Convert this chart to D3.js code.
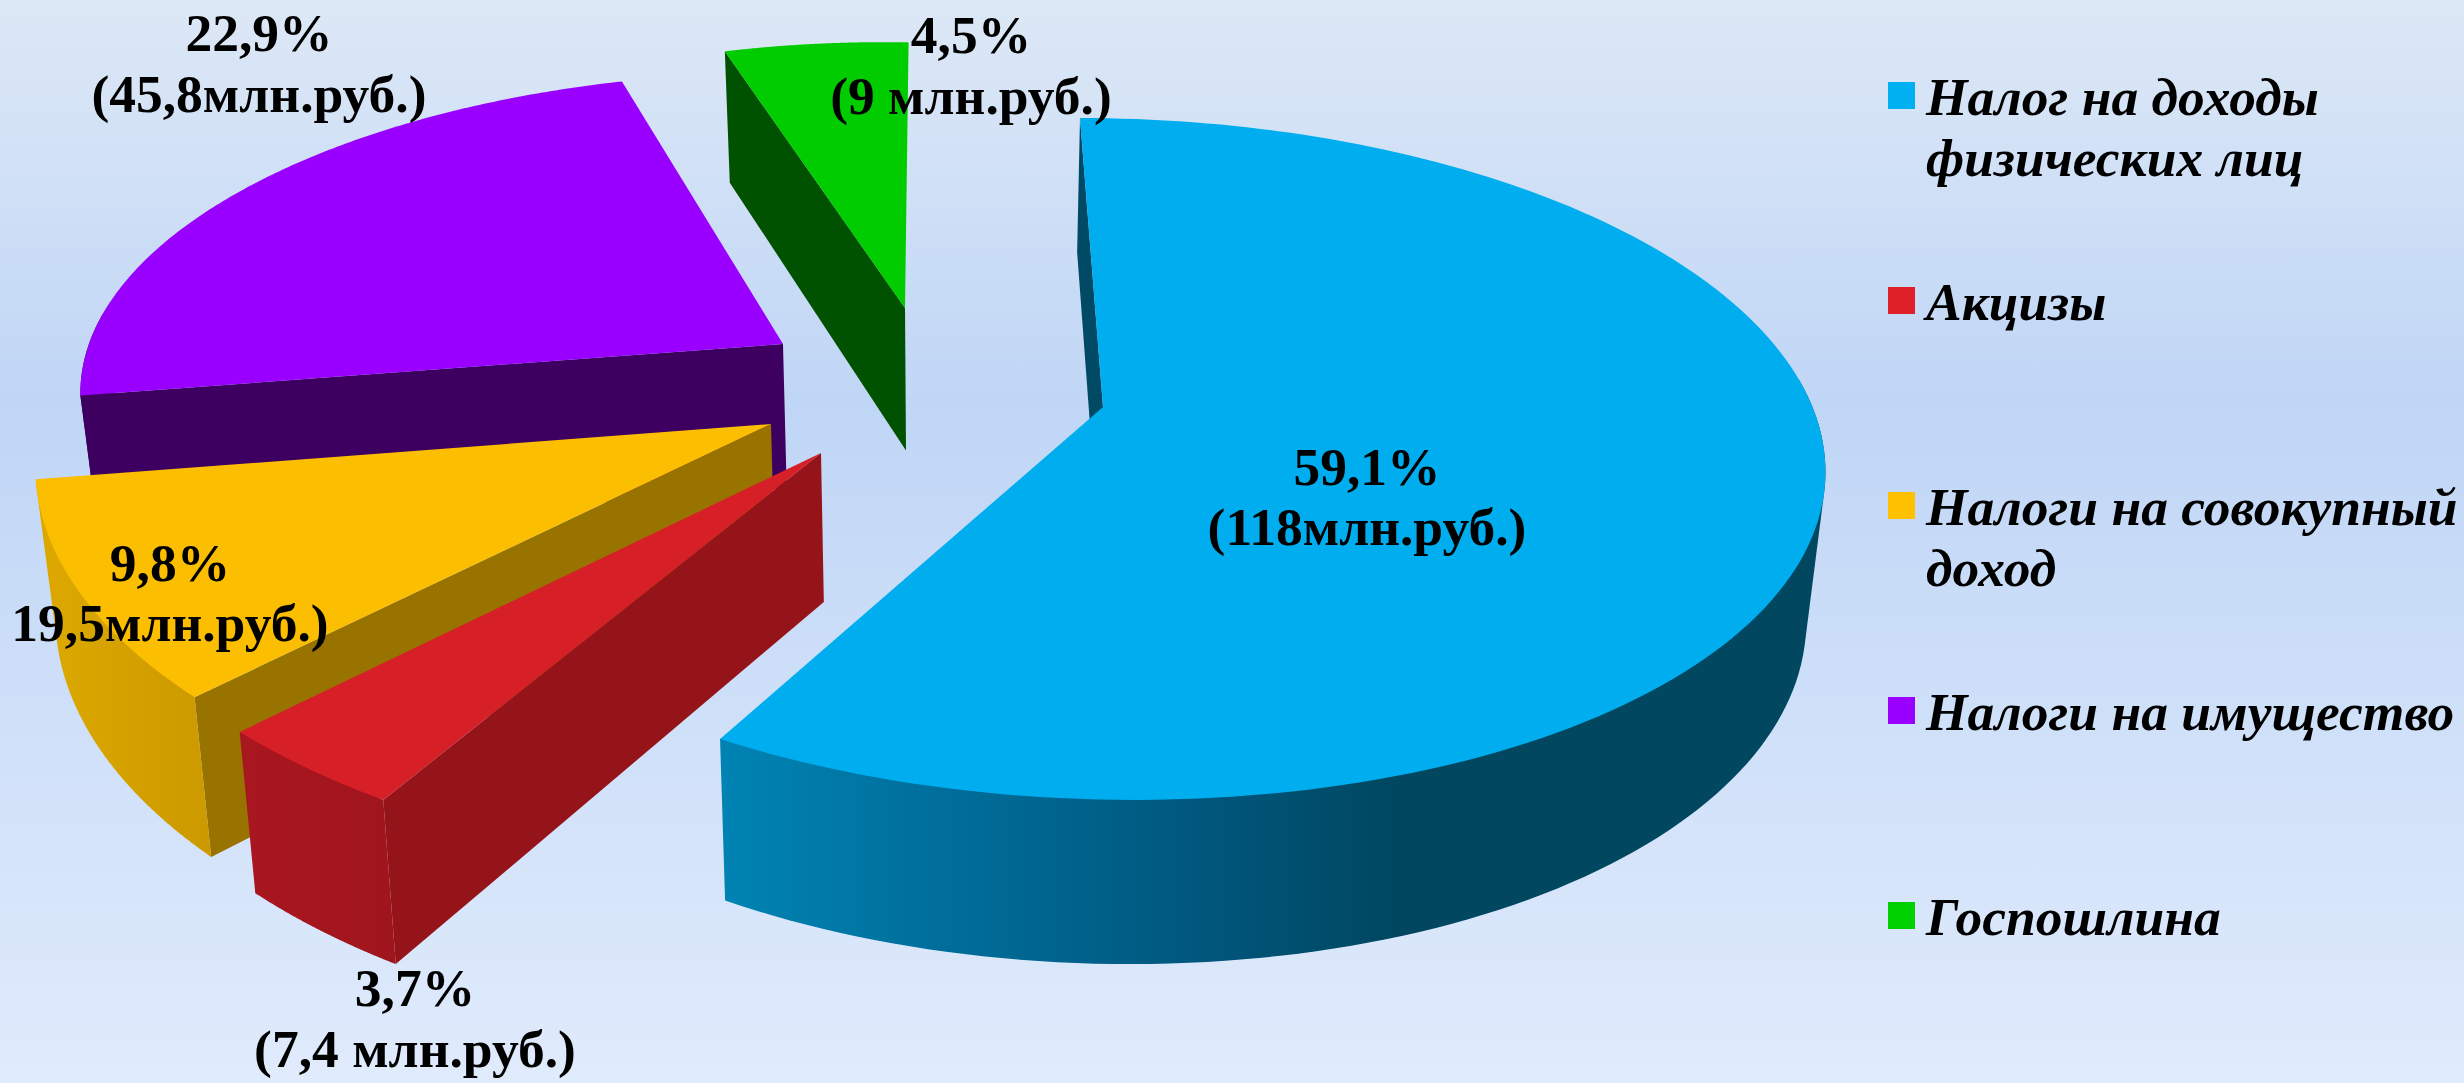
<!DOCTYPE html>
<html><head><meta charset="utf-8">
<script src="https://cdn.jsdelivr.net/npm/d3@7"></script>
<style>html,body{margin:0;padding:0;overflow:hidden}svg{display:block}text{font-family:"Liberation Serif","Times New Roman",serif;fill:#000}</style>
</head><body>
<script>
// ---- data
const categories = [["Налог на доходы","физических лиц"],["Акцизы"],["Налоги на совокупный","доход"],["Налоги на имущество"],["Госпошлина"]];
const shares = [59.1, 3.7, 9.8, 22.9, 4.5];
const amounts = ["(118млн.руб.)","(7,4 млн.руб.)","19,5млн.руб.)","(45,8млн.руб.)","(9 млн.руб.)"];
const shareText = ["59,1%","3,7%","9,8%","22,9%","4,5%"];
// ---- styles and layout
const topColors = ["#00AEEF","#D71F27","#FBBE00","#9900FF","#00CC00"];
const legendColors = ["#00B0F0","#DE2028","#FFC000","#9900FF","#00D000"];
const startWall = ["#004A66","#95141A","#997300","#3D0060","#005200"];
const outerStops = [
 [[716,"#0084B4"],[986,"#006A96"],[1220,"#00557A"],[1400,"#00475F"],[1830,"#00475F"]],
 [[255,"#A8161F"],[394,"#A0151D"]],
 [[50,"#DCA800"],[210,"#CC9900"]],
 [[80,"#3D0060"],[800,"#3D0060"]],
 [[720,"#005200"],[910,"#005200"]]];
const apexX = [1103,821,771,783,905], apexY = [407,453,424,344,308];
const scaleX = [.995,1.05,1.025,.98,.92], scaleY = [1,1.08,1.08,.93,.92];
const startAdj = [0,0,1,-.7,0], endAdj = [-2.7,0,0,3,2.5];
const rimBow = [0,0,0,.02,0];
const drawOrder = [3,4,0,2,1];
const labelX = [1367,415,170,259,971], labelY1 = [485,1006,581,51,53], labelY2 = [545,1067,641,112,114];
const legendY = [82,287,492,697,902];

const W = 2464, H = 1083;
const svg = d3.select("body").append("svg").attr("width",W).attr("height",H);
const defs = svg.append("defs");
const bg = defs.append("linearGradient").attr("id","bg").attr("x1",0).attr("y1",0).attr("x2",0).attr("y2",1);
[[0,"#DDE8F6"],[.37,"#C0D6F6"],[1,"#E0EBFC"]].forEach(s=>bg.append("stop").attr("offset",s[0]).attr("stop-color",s[1]));
svg.append("rect").attr("width",W).attr("height",H).attr("fill","url(#bg)");

// pie angles
const pie = d3.pie().sort(null).value(d=>d);
const arcs = pie(shares);
// perspective projection of the disc
const persp = 6.56, fx = 713, fy = 333, shear = .08;
function rim(i, deg, t){
  const a = deg*Math.PI/180, s = persp/(persp+Math.cos(a));
  const Y = -fy*Math.cos(a)*s, X = fx*Math.sin(a)*s + shear*Y;
  const r = 1-rimBow[i]*Math.sin(Math.PI*t);
  return [apexX[i]+r*scaleX[i]*X, apexY[i]+r*scaleY[i]*Y];
}
// extrusion: each top point maps to the bottom face
const down = p => [p[0]+.022*(950-p[0]), p[1]+129+.044*p[1]];
const line = d3.line();
const closed = pts => line(pts)+"Z";

arcs.forEach((d,i)=>{
  const g = defs.append("linearGradient").attr("id","wall"+i).attr("gradientUnits","userSpaceOnUse")
    .attr("x1",outerStops[i][0][0]).attr("x2",outerStops[i][outerStops[i].length-1][0]).attr("y1",0).attr("y2",0);
  const x0=outerStops[i][0][0], x1=outerStops[i][outerStops[i].length-1][0];
  outerStops[i].forEach(s=>g.append("stop").attr("offset",(s[0]-x0)/(x1-x0)).attr("stop-color",s[1]));
});

const gPie = svg.append("g");
drawOrder.forEach(i=>{
  const d = arcs[i];
  const a0 = d.startAngle*180/Math.PI+startAdj[i], a1 = d.endAngle*180/Math.PI+endAdj[i];
  const steps = d3.range(0,161).map(k=>k/160);
  const pts = steps.map(t=>rim(i,a0+(a1-a0)*t,t));
  const front = steps.filter(t=>Math.cos((a0+(a1-a0)*t)*Math.PI/180)<.1).map(t=>rim(i,a0+(a1-a0)*t,t));
  const apex = [apexX[i],apexY[i]];
  const g = gPie.append("g");
  // start side wall
  g.append("path").attr("d",closed([apex,pts[0],down(pts[0]),down(apex)])).attr("fill",startWall[i]);
  // outer wall, front part only: hull of the top and bottom rims
  if(front.length>1){
    const hull = d3.polygonHull(front.concat(front.map(down)));
    g.append("path").attr("d",closed(hull)).attr("fill","url(#wall"+i+")");
  }
  // top
  g.append("path").attr("d",closed([apex].concat(pts))).attr("fill",topColors[i]);
});

// data labels
const labels = svg.append("g").attr("font-weight","bold").attr("font-size",53.5).attr("text-anchor","middle");
shares.forEach((v,i)=>{
  labels.append("text").attr("x",labelX[i]).attr("y",labelY1[i]).text(shareText[i]);
  labels.append("text").attr("x",labelX[i]).attr("y",labelY2[i]).text(amounts[i]);
});

// legend
const legend = svg.append("g");
categories.forEach((c,i)=>{
  legend.append("rect").attr("x",1888).attr("y",legendY[i]).attr("width",27).attr("height",27).attr("fill",legendColors[i]);
  c.forEach((t,j)=>legend.append("text").attr("x",1926).attr("y",legendY[i]+33+j*61)
    .attr("font-size",53.5).attr("font-weight","bold").attr("font-style","italic").text(t));
});
</script>
</body></html>
